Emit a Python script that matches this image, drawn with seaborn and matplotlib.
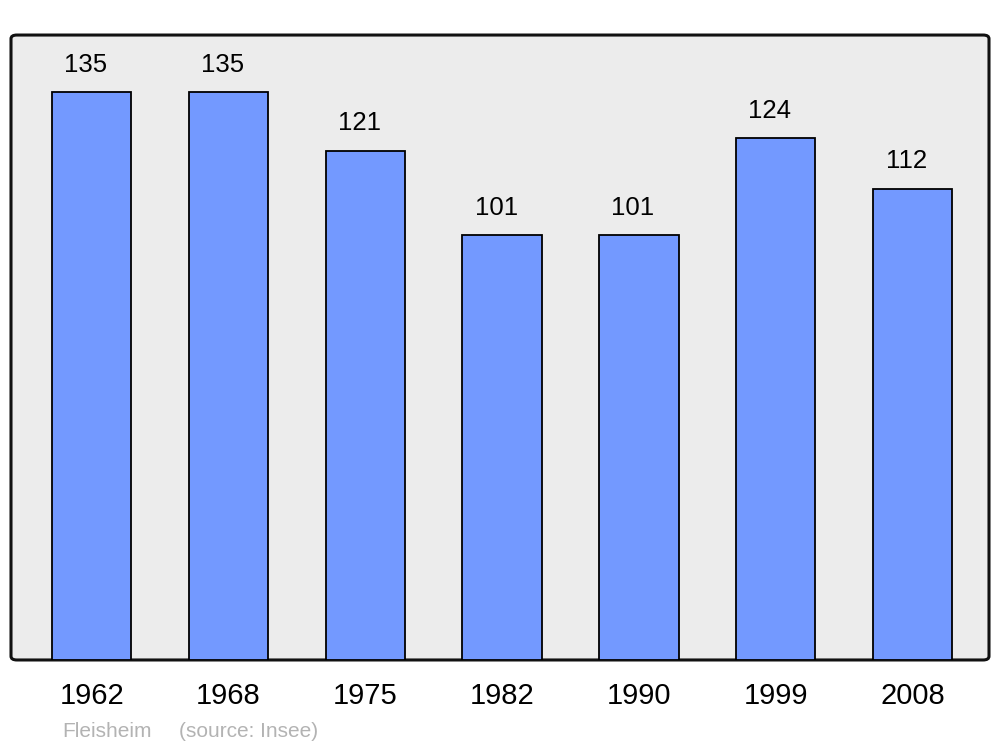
import numpy as np
import pandas as pd
import seaborn as sns
import matplotlib
matplotlib.use("Agg")
import matplotlib.pyplot as plt
from matplotlib.patches import FancyBboxPatch

years = ["1962", "1968", "1975", "1982", "1990", "1999", "2008"]
population = [135, 135, 121, 101, 101, 124, 112]

df = pd.DataFrame({"year": years, "pop": population})

sns.set_style("white")
plt.rcParams["font.family"] = ["Liberation Sans", "DejaVu Sans"]

fig = plt.figure(figsize=(10, 7.47), dpi=100)
ax = fig.add_axes([0.011, 0.1165, 0.978, 0.8366])
ax.set_facecolor("none")

# rounded grey frame behind the bars
frame = FancyBboxPatch((0, 0), 1, 1, boxstyle="round,pad=0,rounding_size=0.006",
                       transform=ax.transAxes, facecolor="#ececec", edgecolor="#111111",
                       linewidth=2.2, zorder=0, clip_on=False)
ax.add_patch(frame)

sns.barplot(data=df, x="year", y="pop", color="#7399ff", width=0.58, saturation=1,
            edgecolor="black", linewidth=1.3, ax=ax, zorder=2)

for i, v in enumerate(population):
    ax.annotate(str(v), (i, v), xytext=(-4.3, 11), textcoords="offset points",
                ha="center", va="bottom", fontsize=18.5, color="black")

ax.set_xlim(-0.59, 6.56)
ax.set_ylim(0, 148.5)
ax.set_yticks([])
ax.set_xlabel("")
ax.set_ylabel("")
ax.tick_params(axis="x", length=0, pad=16, labelsize=21, labelcolor="black")
for s in ax.spines.values():
    s.set_visible(False)

fig.text(0.062, 0.013, "Fleisheim", color="#b3b3b3", fontsize=15)
fig.text(0.179, 0.013, "(source: Insee)", color="#b3b3b3", fontsize=15)

fig.savefig("out.png", dpi=100)
